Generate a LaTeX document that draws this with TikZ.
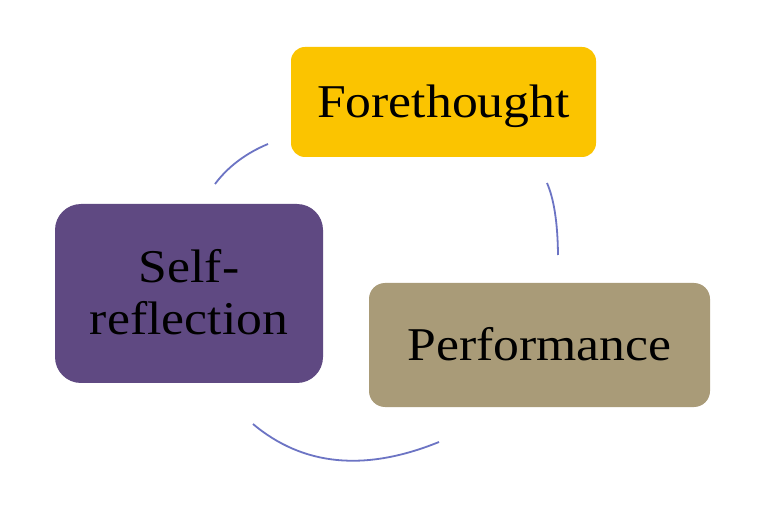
\documentclass[tikz,border=0pt]{standalone}
\usepackage{fontspec}
\setmainfont{Liberation Serif}[FakeStretch=1.10]
\definecolor{goldbox}{HTML}{FBC400}
\definecolor{purplebox}{HTML}{5F4982}
\definecolor{tanbox}{HTML}{A99B78}
\definecolor{arccol}{HTML}{6C74C4}
\begin{document}
\begin{tikzpicture}[x=1pt,y=-1pt,
  cyclebox/.style={inner sep=0pt, font=\fontsize{47}{52}\selectfont, text=black,
    text height=31pt, text depth=0pt, align=center},
  cyclearc/.style={draw=arccol, line width=1.8pt}]
\useasboundingbox (0,0) rectangle (772,505);
\fill[white] (0,0) rectangle (772,505);
\node[cyclebox, fill=goldbox, rounded corners=14pt, minimum width=305pt, minimum height=110pt] (fore) at (443.5,102) {Forethought};
\node[cyclebox, fill=purplebox, rounded corners=26pt, minimum width=268pt, minimum height=179pt, text height=83pt] (self) at (189,293.5) {Self-\\reflection};
\node[cyclebox, fill=tanbox, rounded corners=16pt, minimum width=341pt, minimum height=124pt] (perf) at (539.5,345) {Performance};
\coordinate (a1s) at (215,184);
\coordinate (a1e) at (268,144);
\coordinate (a2s) at (547,183);
\coordinate (a2e) at (558,255);
\coordinate (a3s) at (253,424);
\coordinate (a3e) at (439,442);
\draw[cyclearc] (a1s) .. controls (228,166.7) and (245.7,153.3) .. (a1e);
\draw[cyclearc] (a2s) .. controls (554,199) and (557.7,223) .. (a2e);
\draw[cyclearc] (a3s) .. controls (303,466) and (365,472) .. (a3e);
\end{tikzpicture}
\end{document}
